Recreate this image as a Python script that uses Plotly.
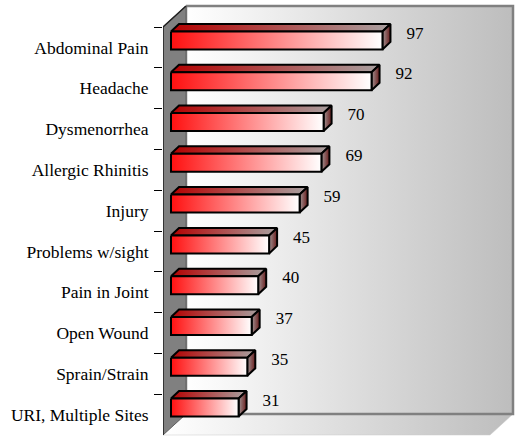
import plotly.graph_objects as go

# ---- data ----
categories = ["Abdominal Pain", "Headache", "Dysmenorrhea", "Allergic Rhinitis", "Injury",
              "Problems w/sight", "Pain in Joint", "Open Wound", "Sprain/Strain", "URI, Multiple Sites"]
values = [97, 92, 70, 69, 59, 45, 40, 37, 35, 31]
axis_max = 150

# ---- style / geometry constants (pixel based, converted to axis units) ----
PX_PER_VALUE = 327 / axis_max
PX_PER_CAT = 40.8


def vx(px):
    return px / PX_PER_VALUE


def cy(px):
    return px / PX_PER_CAT


n = len(categories)
TOP = -0.5
BOT = n - 0.5
WALL_DX, WALL_DY = vx(23), cy(-21)
BAR_DX, BAR_DY = vx(8), cy(-7)
DEP_X, DEP_Y = vx(8), cy(-7.5)
HALF = cy(9)

FONT = "Liberation Serif, DejaVu Serif, serif"

fig = go.Figure()

# floor
fig.add_trace(go.Scatter(
    x=[0, WALL_DX, WALL_DX + axis_max, axis_max, 0],
    y=[BOT, BOT + WALL_DY, BOT + WALL_DY, BOT, BOT],
    mode="lines", fill="toself",
    fillgradient=dict(type="horizontal", colorscale=[[0, "#ffffff"], [1, "#bdbdbd"]]),
    line=dict(color="#c8c8c8", width=0.5), hoverinfo="skip"))

# back wall
fig.add_trace(go.Scatter(
    x=[WALL_DX, WALL_DX + axis_max, WALL_DX + axis_max, WALL_DX, WALL_DX],
    y=[TOP + WALL_DY, TOP + WALL_DY, BOT + WALL_DY, BOT + WALL_DY, TOP + WALL_DY],
    mode="lines", fill="toself",
    fillgradient=dict(type="horizontal", colorscale=[[0, "#ffffff"], [1, "#bdbdbd"]]),
    line=dict(color="#808080", width=2.5), hoverinfo="skip"))

# left wall
fig.add_trace(go.Scatter(
    x=[0, WALL_DX, WALL_DX, 0, 0],
    y=[TOP, TOP + WALL_DY, BOT + WALL_DY, BOT, TOP],
    mode="lines", fill="toself", fillcolor="#808080",
    line=dict(color="#606060", width=1), hoverinfo="skip"))

# front axis edge
fig.add_trace(go.Scatter(x=[WALL_DX, 0, 0], y=[TOP + WALL_DY, TOP, BOT], mode="lines",
                         line=dict(color="#202020", width=1.5), hoverinfo="skip"))

# bars
for i, v in enumerate(values):
    x0 = BAR_DX
    x1 = BAR_DX + v
    y0 = i - HALF + BAR_DY
    y1 = i + HALF + BAR_DY
    # top face
    fig.add_trace(go.Scatter(
        x=[x0, x0 + DEP_X, x1 + DEP_X, x1, x0],
        y=[y0, y0 + DEP_Y, y0 + DEP_Y, y0, y0],
        mode="lines", fill="toself",
        fillgradient=dict(type="horizontal", colorscale=[[0, "#b40000"], [1, "#a8a0a0"]]),
        line=dict(color="black", width=2), hoverinfo="skip"))
    # side face
    fig.add_trace(go.Scatter(
        x=[x1, x1 + DEP_X, x1 + DEP_X, x1, x1],
        y=[y0, y0 + DEP_Y, y1 + DEP_Y, y1, y0],
        mode="lines", fill="toself",
        fillgradient=dict(type="horizontal", colorscale=[[0, "#a09494"], [1, "#6a1c1c"]]),
        line=dict(color="black", width=2), hoverinfo="skip"))
    # front face
    fig.add_trace(go.Scatter(
        x=[x0, x1, x1, x0, x0],
        y=[y0, y0, y1, y1, y0],
        mode="lines", fill="toself",
        fillgradient=dict(type="horizontal", colorscale=[[0, "#ff1010"], [1, "#ffffff"]]),
        line=dict(color="black", width=2), hoverinfo="skip"))

# value labels
fig.add_trace(go.Scatter(
    x=[v + vx(32) for v in values],
    y=[i - cy(13) for i in range(n)],
    mode="text", text=[str(v) for v in values], textposition="middle right",
    textfont=dict(family=FONT, size=17, color="black"), yaxis="y2", hoverinfo="skip"))

y_range = [TOP + (436 - 27) / PX_PER_CAT, TOP - 27 / PX_PER_CAT]

fig.update_layout(
    width=515, height=436,
    font=dict(family=FONT, color="black"),
    margin=dict(l=163, r=0, t=0, b=0, autoexpand=False),
    paper_bgcolor="white", plot_bgcolor="white",
    showlegend=False,
    xaxis=dict(range=[0, vx(352)], visible=False, fixedrange=True, automargin=False),
    yaxis=dict(range=y_range, tickmode="array", fixedrange=True,
               tickvals=[k - 0.5 for k in range(n)],
               ticks="outside", ticklen=8, tickwidth=1, tickcolor="black",
               showticklabels=False, showgrid=False, zeroline=False, showline=False,
               automargin=False),
    yaxis2=dict(range=y_range, overlaying="y", side="left", tickmode="array", fixedrange=True,
                tickvals=list(range(n)), ticktext=categories,
                ticks="outside", ticklen=10, tickcolor="rgba(0,0,0,0)",
                tickfont=dict(family=FONT, size=17.5, color="black"),
                showgrid=False, zeroline=False, showline=False, automargin=False),
)

fig.write_html("out.html", config={"displayModeBar": False},
               post_script="document.body.style.margin='0';")
